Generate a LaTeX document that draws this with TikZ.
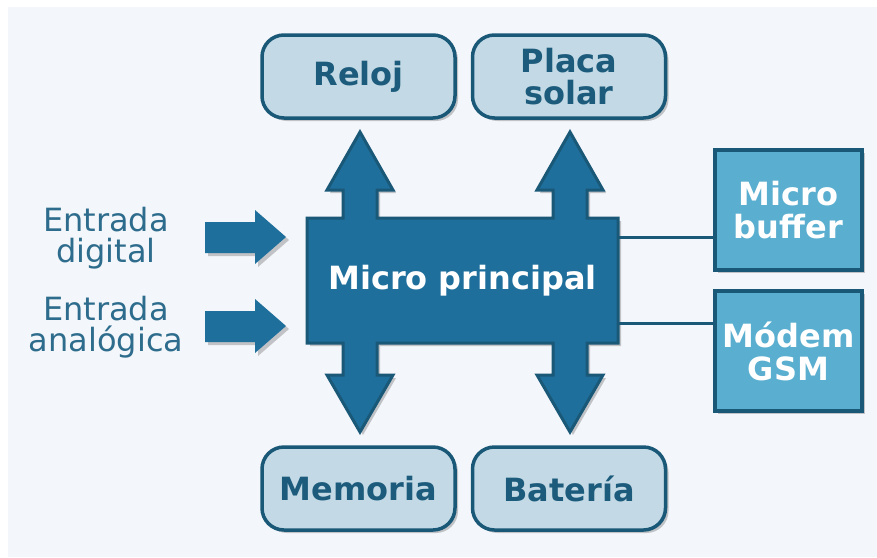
\documentclass[tikz,border=0pt]{standalone}
\usepackage{fontspec}
\setmainfont{DejaVu Sans}
\usetikzlibrary{shadows}
\definecolor{bg}{HTML}{F3F6FA}
\definecolor{darkfill}{HTML}{1F6F9C}
\definecolor{edgecol}{HTML}{1A5878}
\definecolor{lightfill}{HTML}{C3DAE6}
\definecolor{midfill}{HTML}{5AAECF}
\definecolor{txt}{HTML}{1C5B7B}
\definecolor{intxt}{HTML}{2D6C8C}
\begin{document}
\begin{tikzpicture}[x=1pt,y=-1pt,
  shd/.style={drop shadow={shadow xshift=3pt,shadow yshift=-3pt,opacity=0.3,fill=black!70}},
  roundbox/.style={shd,draw=edgecol,line width=3.5pt,fill=lightfill,rounded corners=22pt,
    minimum width=193pt,minimum height=83pt,inner sep=0pt,align=center,text=txt,
    font=\fontsize{32}{32}\selectfont\bfseries},
  sidebox/.style={shd,draw=edgecol,line width=3.5pt,fill=midfill,
    minimum width=147pt,minimum height=120pt,inner sep=0pt,align=center,text=white,
    font=\fontsize{32}{33}\selectfont\bfseries},
  bigarrow/.style={shd,fill=darkfill,draw=edgecol,line width=3pt,line join=miter},
  conn/.style={draw=edgecol,line width=3pt},
  intext/.style={align=center,text=intxt,inner sep=0pt,font=\fontsize{32}{31}\selectfont}
]
\useasboundingbox (0,0) rectangle (877,557);
\fill[bg] (8,7) rectangle (877,557);

% main block with the four bus arrows
\path[bigarrow] (307,218) -- (343,218) -- (343,190) -- (327,190) -- (360,132) -- (393,190) -- (377,190) -- (377,218)
  -- (553,218) -- (553,190) -- (537,190) -- (570,132) -- (603,190) -- (587,190) -- (587,218)
  -- (618,218) -- (618,343)
  -- (587,343) -- (587,375) -- (603,375) -- (570,432) -- (537,375) -- (553,375) -- (553,343)
  -- (377,343) -- (377,375) -- (393,375) -- (360,432) -- (327,375) -- (343,375) -- (343,343)
  -- (307,343) -- cycle;
\node[minimum width=311pt,minimum height=125pt,inner sep=0pt,text=white,
  font=\fontsize{32}{32}\selectfont\bfseries] (main) at (462.5,281) {Micro principal};

% top / bottom boxes
\node[roundbox] (reloj) at (358.5,76.5) {Reloj};
\node[roundbox] (placa) at (569,76.5) {Placa\\solar};
\node[roundbox] (memoria) at (358.5,488.5) {Memoria};
\node[roundbox] (bateria) at (569,488.5) {Batería};

% right boxes
\node[sidebox] (buffer) at (788.5,210) {Micro\\buffer};
\node[sidebox] (modem) at (788.5,351) {Módem\\GSM};

\coordinate (l1) at (0,237);
\coordinate (l2) at (0,323);
\draw[conn] (main.east |- l1) -- (buffer.west |- l1);
\draw[conn] (main.east |- l2) -- (modem.west |- l2);

% input arrows
\path[bigarrow,draw=none] (205,222) -- (255,222) -- (255,210) -- (286,237) -- (255,264) -- (255,253) -- (205,253) -- cycle;
\path[bigarrow,draw=none] (205,311) -- (255,311) -- (255,299) -- (286,326) -- (255,353) -- (255,342) -- (205,342) -- cycle;

\node[intext] (din) at (106,238) {Entrada\\digital};
\node[intext] (ain) at (106,327) {Entrada\\analógica};
\end{tikzpicture}
\end{document}
